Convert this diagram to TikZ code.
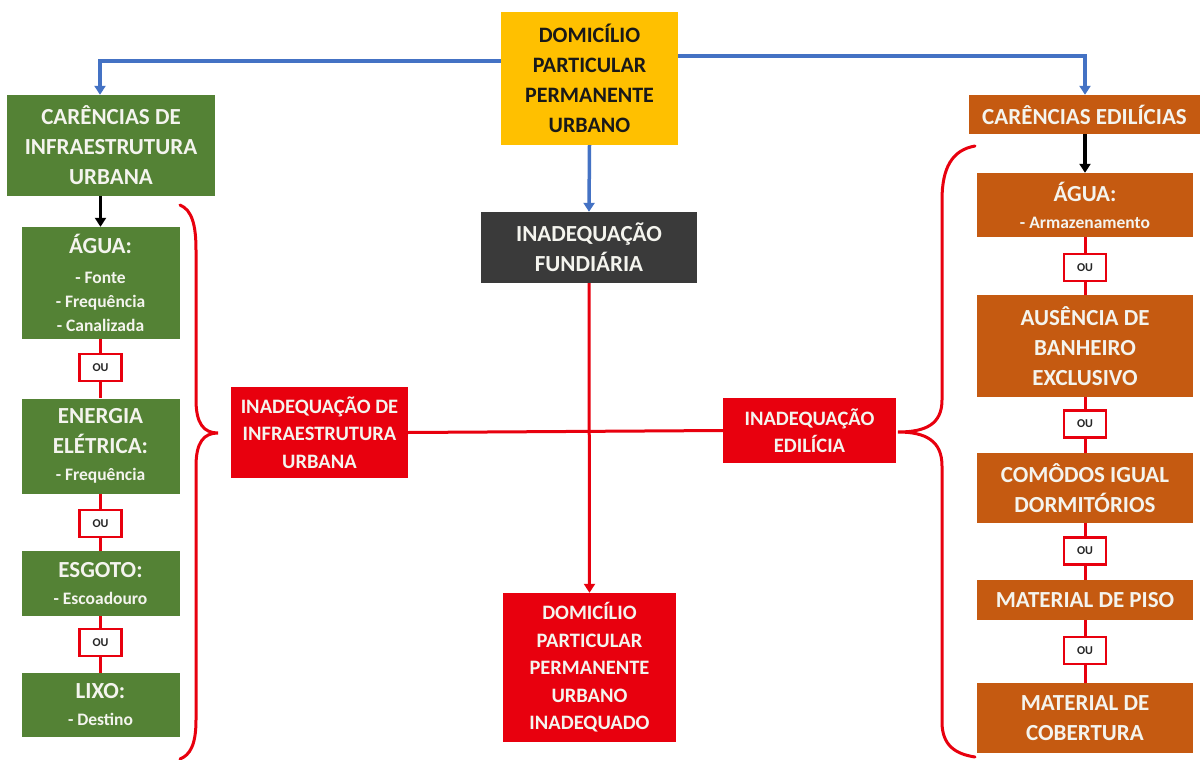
\documentclass[tikz,border=0pt]{standalone}
\usepackage{fontspec}
\setmainfont{Carlito}
\usetikzlibrary{arrows.meta}
\definecolor{cgreen}{HTML}{548235}
\definecolor{corange}{HTML}{C55A11}
\definecolor{cred}{HTML}{E8000E}
\definecolor{cdark}{HTML}{3A3A3A}
\definecolor{cblue}{HTML}{4472C4}
\definecolor{cyellow}{HTML}{FFC000}
\definecolor{ctext}{HTML}{F4F4EE}
\newcommand\mybigf{\fontsize{23}{30}\selectfont\bfseries}
\newcommand\myredf{\fontsize{20.5}{27.5}\selectfont\bfseries}
\newcommand\mytopf{\fontsize{22}{30}\selectfont\bfseries}
\newcommand\mysmallf{\fontsize{17.5}{24}\selectfont\bfseries}
\tikzset{
  box/.style={rectangle, inner sep=0pt, align=center, text=ctext, font=\mybigf},
  gbox/.style={box, fill=cgreen},
  obox/.style={box, fill=corange},
  rbox/.style={box, fill=cred, font=\myredf},
  oubox/.style={rectangle, draw=cred, line width=2.5pt, fill=white, minimum width=42pt, minimum height=27pt, inner sep=0pt, font=\fontsize{12}{14}\selectfont\bfseries, text=black!85},
  blueline/.style={draw=cblue, line width=3.5pt, -{Triangle[width=11pt,length=9pt]}},
  blackarrow/.style={draw=black, line width=3.5pt, -{Triangle[width=11pt,length=9pt]}},
  redline/.style={draw=cred, line width=3pt},
  bracestyle/.style={draw=cred, line width=3pt, line cap=round},
}
\begin{document}
\begin{tikzpicture}[x=1pt, y=-1pt]
\useasboundingbox[fill=white] (0,0) rectangle (1203,760);

% top and center column
\node[box, fill=cyellow, text=black!90, font=\mytopf, minimum width=177pt, minimum height=133pt] (top) at (589.5,78.5) {DOMICÍLIO\\PARTICULAR\\PERMANENTE\\URBANO};
\node[box, fill=cdark, minimum width=216pt, minimum height=71pt] (fund) at (589,247.5) {INADEQUAÇÃO\\FUNDIÁRIA};
\node[rbox, minimum width=173pt, minimum height=149pt] (final) at (589.5,667.5) {DOMICÍLIO\\PARTICULAR\\PERMANENTE\\URBANO\\INADEQUADO};
\node[rbox, minimum width=177pt, minimum height=91pt] (infra) at (319.5,432.5) {INADEQUAÇÃO DE\\INFRAESTRUTURA\\URBANA};
\node[rbox, minimum width=173pt, minimum height=65pt] (edil) at (809.5,430.5) {INADEQUAÇÃO\\EDILÍCIA};

% left column
\node[gbox, minimum width=208pt, minimum height=101pt] (cinfra) at (111,145.5) {CARÊNCIAS DE\\INFRAESTRUTURA\\URBANA};
\node[gbox, minimum width=158pt, minimum height=112pt] (aguaL) at (100.5,283) {ÁGUA:\\[0pt]{\mysmallf - Fonte}\\[-6pt]{\mysmallf - Frequência}\\[-6pt]{\mysmallf - Canalizada}};
\node[gbox, minimum width=158pt, minimum height=95pt] (energia) at (100.5,446) {ENERGIA\\ELÉTRICA:\\[-3pt]{\mysmallf - Frequência}};
\node[gbox, minimum width=158pt, minimum height=65pt] (esgoto) at (100.5,583.5) {ESGOTO:\\[-3pt]{\mysmallf - Escoadouro}};
\node[gbox, minimum width=158pt, minimum height=64pt] (lixo) at (100.5,705) {LIXO:\\[-3pt]{\mysmallf - Destino}};

% right column
\node[obox, minimum width=231pt, minimum height=39pt] (cedil) at (1084.5,114.5) {CARÊNCIAS EDILÍCIAS};
\node[obox, minimum width=216pt, minimum height=64pt] (aguaR) at (1085,205) {ÁGUA:\\[-3pt]{\mysmallf - Armazenamento}};
\node[obox, minimum width=216pt, minimum height=102pt] (banh) at (1085,346) {AUSÊNCIA DE\\BANHEIRO\\EXCLUSIVO};
\node[obox, minimum width=216pt, minimum height=70pt] (comodos) at (1085,488) {COMÔDOS IGUAL\\DORMITÓRIOS};
\node[obox, minimum width=216pt, minimum height=40pt] (piso) at (1085,600) {MATERIAL DE PISO};
\node[obox, minimum width=216pt, minimum height=70pt] (cobert) at (1085,718) {MATERIAL DE\\COBERTURA};

% blue connectors
\coordinate (tl) at (100,61);
\coordinate (tr) at (1085,56);
\draw[blueline] (top.west |- tl) -- (tl) -- (tl |- cinfra.north);
\draw[blueline] (top.east |- tr) -- (tr) -- (tr |- cedil.north);
\draw[blueline] (top.south) -- (fund.north);

% black arrows
\draw[blackarrow] (cinfra.south -| aguaL.north) -- (aguaL.north);
\draw[blackarrow] (cedil.south -| aguaR.north) -- (aguaR.north);

% red OU chains left
\draw[redline] (aguaL.south) -- (energia.north);
\draw[redline] (energia.south) -- (esgoto.north);
\draw[redline] (esgoto.south) -- (lixo.north);
\node[oubox] (ouL1) at (100.5,367.5) {OU};
\node[oubox] (ouL2) at (100.5,523.5) {OU};
\node[oubox] (ouL3) at (100.5,642.5) {OU};

% red OU chains right
\draw[redline] (aguaR.south) -- (banh.north);
\draw[redline] (banh.south) -- (comodos.north);
\draw[redline] (comodos.south) -- (piso.north);
\draw[redline] (piso.south) -- (cobert.north);
\node[oubox] (ouR1) at (1085,267.5) {OU};
\node[oubox] (ouR2) at (1085,424) {OU};
\node[oubox] (ouR3) at (1085,551) {OU};
\node[oubox] (ouR4) at (1085,650.5) {OU};

% red crossing lines
\draw[redline] (infra.east) -- (edil.west);
\draw[redline, -{Triangle[width=11pt,length=9pt]}] (fund.south) -- (final.north);

% braces
\draw[bracestyle] (180,205) .. controls (192,210) and (196,225) .. (196,250) -- (196,400) .. controls (196,424) and (204,433) .. (218,433) .. controls (204,433) and (196,442) .. (196,466) -- (196,720) .. controls (196,745) and (190,755) .. (180,759);
\draw[bracestyle] (975,146) .. controls (952,150) and (942,168) .. (942,200) -- (942,400) .. controls (942,424) and (926,432) .. (898,432) .. controls (926,432) and (942,441) .. (942,466) -- (942,722) .. controls (942,745) and (955,754) .. (975,757);
\end{tikzpicture}
\end{document}
